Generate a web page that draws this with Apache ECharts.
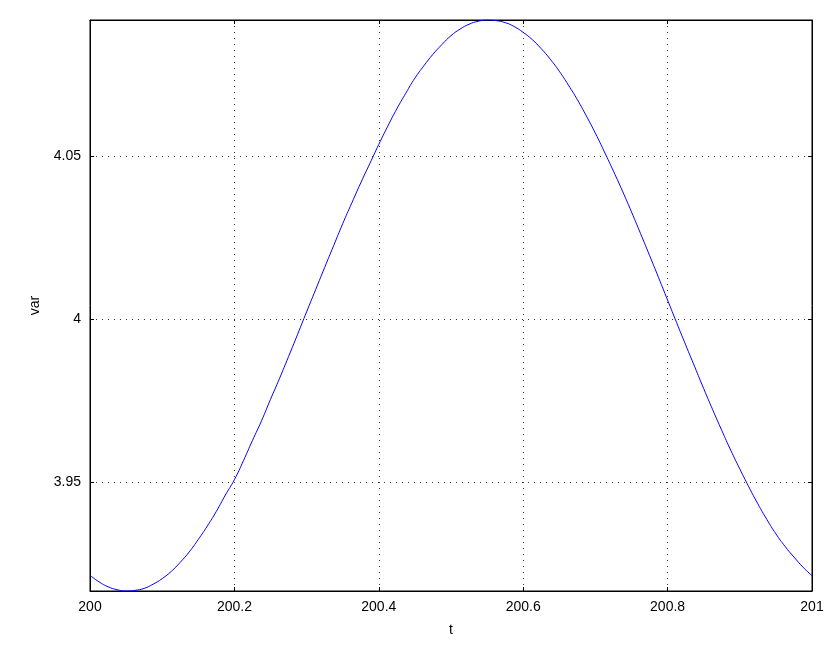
<!DOCTYPE html>
<html>
<head>
<meta charset="utf-8">
<script src="https://cdn.jsdelivr.net/npm/echarts@6/dist/echarts.min.js"></script>
<style>
html,body{margin:0;padding:0;background:#fff;}
#chart{width:834px;height:649px;}
</style>
</head>
<body>
<div id="chart"></div>
<script>
// Values
const tValues = [
  200.0000, 200.0125, 200.0250, 200.0375, 200.0500, 200.0625, 200.0750, 200.0875,
  200.1000, 200.1125, 200.1250, 200.1375, 200.1500, 200.1625, 200.1750, 200.1875,
  200.2000, 200.2125, 200.2250, 200.2375, 200.2500, 200.2625, 200.2750, 200.2875,
  200.3000, 200.3125, 200.3250, 200.3375, 200.3500, 200.3625, 200.3750, 200.3875,
  200.4000, 200.4125, 200.4250, 200.4375, 200.4500, 200.4625, 200.4750, 200.4875,
  200.5000, 200.5125, 200.5250, 200.5375, 200.5500, 200.5625, 200.5750, 200.5875,
  200.6000, 200.6125, 200.6250, 200.6375, 200.6500, 200.6625, 200.6750, 200.6875,
  200.7000, 200.7125, 200.7250, 200.7375, 200.7500, 200.7625, 200.7750, 200.7875,
  200.8000, 200.8125, 200.8250, 200.8375, 200.8500, 200.8625, 200.8750, 200.8875,
  200.9000, 200.9125, 200.9250, 200.9375, 200.9500, 200.9625, 200.9750, 200.9875,
  201.0000
];
const varValues = [
  3.9215, 3.9195, 3.9180, 3.9171, 3.9167, 3.9169, 3.9175, 3.9188,
  3.9205, 3.9227, 3.9255, 3.9287, 3.9325, 3.9366, 3.9411, 3.9461,
  3.9508, 3.9566, 3.9628, 3.9688, 3.9754, 3.9818, 3.9885, 3.9953,
  4.0022, 4.0090, 4.0158, 4.0225, 4.0292, 4.0355, 4.0417, 4.0476,
  4.0535, 4.0591, 4.0644, 4.0692, 4.0738, 4.0776, 4.0811, 4.0841,
  4.0868, 4.0888, 4.0903, 4.0912, 4.0916, 4.0914, 4.0908, 4.0896,
  4.0878, 4.0856, 4.0828, 4.0796, 4.0759, 4.0717, 4.0672, 4.0622,
  4.0569, 4.0512, 4.0453, 4.0392, 4.0328, 4.0262, 4.0195, 4.0127,
  4.0058, 3.9989, 3.9921, 3.9854, 3.9787, 3.9722, 3.9659, 3.9598,
  3.9541, 3.9486, 3.9434, 3.9386, 3.9342, 3.9304, 3.9271, 3.9240,
  3.9214
];
const xTicks = [200, 200.2, 200.4, 200.6, 200.8, 201];
const yTicks = [3.95, 4, 4.05];
const xRange = [200, 201];
const yRange = [3.9167, 4.0916];
const xName = 't';
const yName = 'var';

const chart = echarts.init(document.getElementById('chart'), null, {renderer: 'canvas'});
const font = 'Liberation Sans, Arial, sans-serif';
const gridLine = {show: true, lineStyle: {color: '#333', width: 1, type: [1, 5]}};
const fmt = v => String(Math.round(v * 1000) / 1000);

chart.setOption({
  animation: false,
  backgroundColor: '#fff',
  grid: {left: 90, right: 22, top: 20, bottom: 58, show: true, borderColor: '#000', borderWidth: 1, backgroundColor: 'transparent'},
  xAxis: [{
    type: 'value', min: xRange[0], max: xRange[1], interval: 0.2,
    name: xName, nameLocation: 'middle', nameGap: 32,
    nameTextStyle: {color: '#000', fontSize: 14, fontFamily: font},
    axisLine: {show: true, lineStyle: {color: '#000', width: 1}},
    axisTick: {show: true, inside: true, length: 4, customValues: xTicks, lineStyle: {color: '#000'}},
    axisLabel: {color: '#000', fontSize: 14, fontFamily: font, margin: 9, customValues: xTicks, formatter: fmt},
    splitLine: gridLine
  }, {
    type: 'value', position: 'top', min: xRange[0], max: xRange[1], interval: 0.2,
    axisLine: {show: true, lineStyle: {color: '#000'}},
    axisTick: {show: true, inside: true, length: 4, customValues: xTicks, lineStyle: {color: '#000'}},
    axisLabel: {show: false, customValues: xTicks}, splitLine: {show: false}
  }],
  yAxis: [{
    type: 'value', min: yRange[0], max: yRange[1],
    name: yName, nameLocation: 'middle', nameGap: 48, nameRotate: 90,
    nameTextStyle: {color: '#000', fontSize: 14, fontFamily: font},
    axisLine: {show: true, lineStyle: {color: '#000', width: 1}},
    axisTick: {show: true, inside: true, length: 4, customValues: yTicks, lineStyle: {color: '#000'}},
    axisLabel: {color: '#000', fontSize: 14, fontFamily: font, margin: 9, customValues: yTicks, formatter: fmt},
    splitLine: gridLine
  }, {
    type: 'value', position: 'right', min: yRange[0], max: yRange[1],
    axisLine: {show: true, lineStyle: {color: '#000'}},
    axisTick: {show: true, inside: true, length: 4, customValues: yTicks, lineStyle: {color: '#000'}},
    axisLabel: {show: false, customValues: yTicks}, splitLine: {show: false}
  }],
  series: [{
    type: 'line',
    data: tValues.map((t, i) => [t, varValues[i]]),
    smooth: true,
    showSymbol: false,
    lineStyle: {color: '#0000ff', width: 1},
    itemStyle: {color: '#0000ff'},
    clip: true
  }]
});
</script>
</body>
</html>
